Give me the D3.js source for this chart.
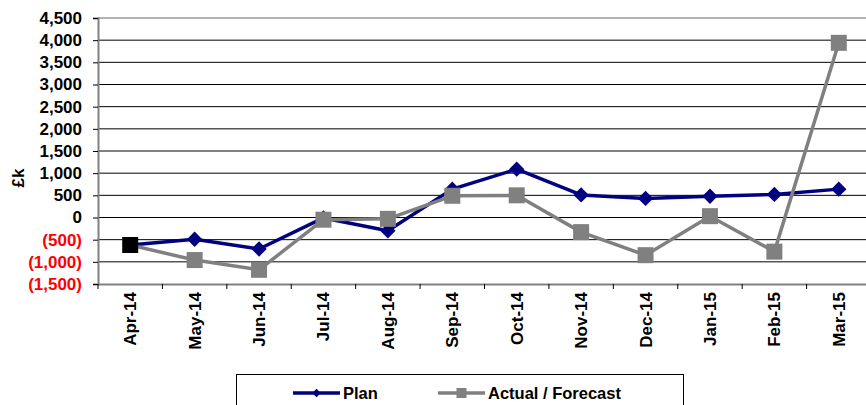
<!DOCTYPE html>
<html>
<head>
<meta charset="utf-8">
<script src="https://cdn.jsdelivr.net/npm/d3@7"></script>
<style>
  html, body { margin: 0; padding: 0; background: #fff; }
  svg { display: block; font-family: "Liberation Sans", Arial, sans-serif; }
  .lab { font-family: "Liberation Sans", Arial, sans-serif; font-weight: bold; }
</style>
</head>
<body>
<svg id="chart" width="866" height="405"></svg>
<script>
// Monthly profile, £k
const months = ["Apr-14","May-14","Jun-14","Jul-14","Aug-14","Sep-14","Oct-14","Nov-14","Dec-14","Jan-15","Feb-15","Mar-15"];
const plan = [-620, -490, -710, -10, -300, 640, 1090, 510, 430, 480, 520, 640];
const actual = [-620, -960, -1180, -50, -30, 490, 500, -330, -850, 30, -770, 3940];
const yTicks = [-1500, -1000, -500, 0, 500, 1000, 1500, 2000, 2500, 3000, 3500, 4000, 4500];

const svg = d3.select("#chart");
const plotLeft = 98, plotRight = 871, plotTop = 18, plotBottom = 284;

const x = d3.scaleBand().domain(months).range([plotLeft, plotRight]);
const y = d3.scaleLinear().domain([-1500, 4500]).range([plotBottom, plotTop]);
const cx = d => x(d) + x.bandwidth() / 2;

// gridlines
svg.append("g").selectAll("line").data(yTicks.filter(v => v > -1500)).join("line")
  .attr("x1", plotLeft).attr("x2", plotRight)
  .attr("y1", d => y(d)).attr("y2", d => y(d))
  .attr("stroke", d => d === 4500 ? "#999" : "#000")
  .attr("stroke-width", d => d === 4500 ? 1.5 : 1);

// y axis
const fmt = v => v < 0 ? "(" + d3.format(",")(-v) + ")" : d3.format(",")(v);
const yAxis = d3.axisLeft(y).tickValues(yTicks).tickFormat(fmt).tickSize(5).tickPadding(11);
const gy = svg.append("g").attr("transform", `translate(${plotLeft},0)`).call(yAxis);
gy.select(".domain").attr("stroke", "#808080").attr("stroke-width", 2);
gy.selectAll(".tick line").attr("stroke", "#000");
gy.selectAll(".tick text")
  .attr("class", "lab")
  .style("font-size", "17px")
  .attr("fill", d => d < 0 ? "#ff0000" : "#000");

// x axis
const xAxis = d3.axisBottom(x).tickValues([]).tickSizeOuter(0);
const gx = svg.append("g").attr("transform", `translate(0,${plotBottom})`).call(xAxis);
gx.select(".domain").attr("stroke", "#808080").attr("stroke-width", 2);
gx.selectAll(".sep").data(d3.range(months.length + 1)).join("line")
  .attr("class", "sep")
  .attr("x1", i => plotLeft + i * x.step()).attr("x2", i => plotLeft + i * x.step())
  .attr("y1", 0).attr("y2", 5).attr("stroke", "#000");
gx.selectAll(".xl").data(months).join("text")
  .attr("class", "lab xl")
  .attr("transform", d => `translate(${cx(d) + 6},${8}) rotate(-90)`)
  .attr("text-anchor", "end")
  .attr("fill", "#000")
  .style("font-size", "17px")
  .text(d => d);

// y title
svg.append("text")
  .attr("class", "lab")
  .attr("transform", "translate(24,178) rotate(-90)")
  .attr("text-anchor", "middle")
  .attr("fill", "#000")
  .style("font-size", "17px")
  .text("£k");

// series lines
const line = d3.line().x((d, i) => cx(months[i])).y(d => y(d));
svg.append("path").datum(plan).attr("d", line)
  .attr("fill", "none").attr("stroke", "#000080").attr("stroke-width", 3.5).attr("stroke-linejoin", "round");
svg.append("path").datum(actual).attr("d", line)
  .attr("fill", "none").attr("stroke", "#808080").attr("stroke-width", 3.5).attr("stroke-linejoin", "round");

// markers
const diamond = d3.symbol().type(d3.symbolDiamond2).size(150);
svg.append("g").selectAll("path").data(plan).join("path")
  .attr("d", diamond)
  .attr("transform", (d, i) => `translate(${cx(months[i])},${y(d)})`)
  .attr("fill", "#000080");
const sq = 16;
svg.append("g").selectAll("rect").data(actual).join("rect")
  .attr("x", (d, i) => cx(months[i]) - sq / 2)
  .attr("y", d => y(d) - sq / 2)
  .attr("width", sq).attr("height", sq)
  .attr("fill", (d, i) => i === 0 ? "#000" : "#808080");

// legend
const lg = svg.append("g");
lg.append("rect").attr("x", 236.5).attr("y", 374.5).attr("width", 447).attr("height", 40)
  .attr("fill", "#fff").attr("stroke", "#000").attr("stroke-width", 1);
const legendItems = [
  {name: "Plan", color: "#000080", x1: 293, shape: "diamond"},
  {name: "Actual / Forecast", color: "#808080", x1: 438, shape: "square"}
];
legendItems.forEach(it => {
  const ly = 393;
  lg.append("line").attr("x1", it.x1).attr("x2", it.x1 + 47).attr("y1", ly).attr("y2", ly)
    .attr("stroke", it.color).attr("stroke-width", 3.5);
  if (it.shape === "diamond") {
    lg.append("path").attr("d", d3.symbol().type(d3.symbolDiamond2).size(45)())
      .attr("transform", `translate(${it.x1 + 23.5},${ly})`).attr("fill", it.color);
  } else {
    lg.append("rect").attr("x", it.x1 + 23.5 - 5).attr("y", ly - 5).attr("width", 10).attr("height", 10)
      .attr("fill", it.color);
  }
  lg.append("text").attr("class", "lab").attr("x", it.x1 + 50).attr("y", ly + 6)
    .attr("fill", "#000")
    .style("font-size", "16.5px").text(it.name);
});
</script>
</body>
</html>
